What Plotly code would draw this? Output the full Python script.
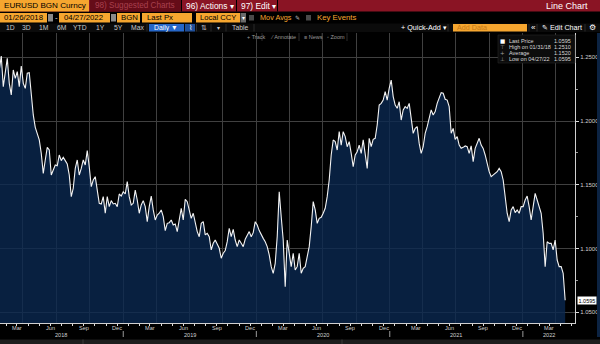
import pandas as pd
import plotly.graph_objects as go

# ---------------------------------------------------------------- data
ticker = "EURUSD BGN Curncy"
start_date = "2018-01-26"
end_date = "2022-04-27"

# EUR/USD last price, sampled at even intervals between the start and end dates
eurusd_close = [
    1.2401, 1.2510, 1.2270, 1.2375, 1.2492, 1.2296, 1.2205, 1.2401, 1.2335, 1.2388,
    1.2270, 1.2432, 1.2296, 1.2257, 1.2375, 1.2380, 1.2218, 1.2048, 1.1951, 1.1904,
    1.1852, 1.1747, 1.1590, 1.1695, 1.1794, 1.1773, 1.1577, 1.1616, 1.1656, 1.1650,
    1.1734, 1.1690, 1.1716, 1.1690, 1.1663, 1.1577, 1.1407, 1.1473, 1.1629, 1.1695,
    1.1577, 1.1629, 1.1695, 1.1656, 1.1768, 1.1642, 1.1486, 1.1538, 1.1564, 1.1459,
    1.1355, 1.1350, 1.1407, 1.1277, 1.1407, 1.1329, 1.1376, 1.1350, 1.1355, 1.1329,
    1.1428, 1.1412, 1.1446, 1.1428, 1.1525, 1.1407, 1.1342, 1.1355, 1.1459, 1.1381,
    1.1277, 1.1342, 1.1376, 1.1329, 1.1211,
    1.1329, 1.1412, 1.1303, 1.1224, 1.1263, 1.1277, 1.1303, 1.1250, 1.1141, 1.1198,
    1.1203, 1.1224, 1.1185, 1.1193, 1.1133, 1.1237, 1.1316, 1.1224, 1.1386, 1.1368,
    1.1290, 1.1237, 1.1277, 1.1211, 1.1133, 1.1093, 1.1198, 1.1211, 1.1107, 1.1120,
    1.1093, 1.0989, 1.1041, 1.1067, 1.1036, 1.1002, 1.0924, 1.0963, 1.0984, 1.1054,
    1.1159, 1.1093, 1.1151, 1.1067, 1.1015, 1.1067, 1.1041, 1.1015, 1.1073, 1.1107,
    1.1133, 1.1093, 1.1125, 1.1211, 1.1185, 1.1141, 1.1107, 1.1080, 1.1054, 1.1015,
    1.0950, 1.0858, 1.0806, 1.0884, 1.1093, 1.1446, 1.1250, 1.1067, 1.0701, 1.1067,
    1.0963, 1.0858, 1.0963, 1.0832, 1.0858,
    1.0963, 1.0806, 1.0845, 1.0858, 1.0924, 1.1015, 1.1172, 1.1368, 1.1303, 1.1198,
    1.1237, 1.1245, 1.1277, 1.1316, 1.1407, 1.1538, 1.1734, 1.1852, 1.1839, 1.1773,
    1.1917, 1.1812, 1.1917, 1.1878, 1.1799, 1.1839, 1.1747, 1.1642, 1.1734, 1.1760,
    1.1812, 1.1747, 1.1852, 1.1721, 1.1629, 1.1865, 1.1799, 1.1857, 1.1865, 1.1969,
    1.2126, 1.2139, 1.2165, 1.2231, 1.2165, 1.2257, 1.2322, 1.2192, 1.2126, 1.2100,
    1.2152, 1.2008, 1.2087, 1.2113, 1.2100, 1.2139, 1.2035, 1.1904, 1.1943, 1.1956,
    1.1825, 1.1747, 1.1799, 1.1904, 1.1956, 1.2035, 1.2087, 1.2048, 1.2074, 1.2139,
    1.2178, 1.2223, 1.2218, 1.2171, 1.2165,
    1.2113, 1.1904, 1.1943, 1.1857, 1.1878, 1.1812, 1.1786, 1.1794, 1.1805, 1.1799,
    1.1747, 1.1805, 1.1682, 1.1786, 1.1825, 1.1865, 1.1812, 1.1786, 1.1734, 1.1656,
    1.1603, 1.1564, 1.1577, 1.1595, 1.1603, 1.1629, 1.1603, 1.1538, 1.1381, 1.1277,
    1.1211, 1.1303, 1.1329, 1.1282, 1.1303, 1.1277, 1.1329, 1.1329, 1.1381, 1.1412,
    1.1329, 1.1224, 1.1329, 1.1433, 1.1381, 1.1329, 1.1277, 1.1120, 1.0858, 1.1054,
    1.1041, 1.1041, 1.0989, 1.1067, 1.0910, 1.0858, 1.0858, 1.0806, 1.0595,
]

average_price = 1.1520
y_ticks = [1.05, 1.10, 1.15, 1.20, 1.25]
month_names = {3: "Mar", 6: "Jun", 9: "Sep", 12: "Dec"}
period_buttons = ["1D", "3D", "1M", "6M", "YTD", "1Y", "5Y", "Max"]

dates = pd.date_range(start_date, end_date, periods=len(eurusd_close))
x_range = [pd.Timestamp("2018-01-28"), pd.Timestamp("2022-05-24")]
y_range = [1.0416, 1.2691]

last_px = eurusd_close[-1]
hi_idx = max(range(len(eurusd_close)), key=lambda i: eurusd_close[i])
lo_idx = min(range(len(eurusd_close)), key=lambda i: eurusd_close[i])

# month ticks (labels mid-month), quarter gridlines
month_ticks = pd.date_range("2018-02-01", "2022-05-01", freq="MS") + pd.Timedelta(days=14)
quarter_lines = pd.date_range("2018-04-01", "2022-04-01", freq="QS")

# ---------------------------------------------------------------- layout helpers
W, H = 600, 344
ML, MR, MT, MB = 0, 25, 33, 21
PW, PH = W - ML - MR, H - MT - MB

def fx(px):
    return (px - ML) / PW

def fy(py):
    return (H - MB - py) / PH

shapes, notes = [], []
FONT = "Liberation Sans, Arial, sans-serif"

def box(x0, y0, x1, y1, color, line=None):
    shapes.append(dict(type="rect", xref="paper", yref="paper",
                       x0=fx(x0), x1=fx(x1), y0=fy(y1), y1=fy(y0),
                       fillcolor=color, line=dict(width=0.6 if line else 0, color=line or color),
                       layer="above"))

def vline(x, y0, y1, color, w=1):
    shapes.append(dict(type="line", xref="paper", yref="paper",
                       x0=fx(x), x1=fx(x), y0=fy(y1), y1=fy(y0),
                       line=dict(color=color, width=w), layer="above"))

def text(x, y, s, size=8, color="#ffffff", anchor="left", family=FONT):
    notes.append(dict(xref="paper", yref="paper", x=fx(x), y=fy(y), text=s,
                      showarrow=False, xanchor=anchor, yanchor="middle",
                      font=dict(size=size, color=color, family=family)))

ORANGE = "#f6a62f"
RED = "#8a1424"

# row 1: security + menu bar
box(0, 0, 600, 11.5, RED)
box(0, 0, 89, 11.5, ORANGE)
text(1.5, 6, ticker, 8.1, "#000000")
box(90, 0, 181, 11.5, "#650c18")
text(93, 6, "98) Suggested Charts", 8.2, "#a9404e")
vline(181.5, 0, 11.5, "#000000", 1)
text(184, 6, "96) Actions ▾", 8.4, "#ffffff")
vline(236.5, 0, 11.5, "#000000", 1)
text(239, 6, "97) Edit ▾", 8.4, "#ffffff")
vline(277.5, 0, 11.5, "#000000", 1)
text(590, 6, "Line Chart", 9, "#ffffff", anchor="right")

# row 2: date range and fields
box(0, 12.5, 600, 23, "#000000")
box(0, 13, 47, 22.5, ORANGE)
text(2, 17.8, "01/26/2018", 7.8, "#000000")
box(48, 14, 53, 21.5, "#8a8a8a")
text(56, 17.8, "-", 8, "#dddddd", anchor="center")
box(59, 13, 110, 22.5, ORANGE)
text(62, 17.8, "04/27/2022", 7.8, "#000000")
box(111, 14, 116, 21.5, "#8a8a8a")
box(117, 13, 140, 22.5, ORANGE)
text(119, 17.8, "BGN", 7.8, "#000000")
box(142, 13, 192, 22.5, ORANGE)
text(145, 17.8, "Last Px", 7.8, "#000000")
box(196, 13, 240, 22.5, ORANGE)
text(198, 17.8, "Local CCY", 7.6, "#000000")
box(240.5, 13, 246, 22.5, "#6a6a6a")
text(243.3, 18, "▾", 6, "#ffffff", anchor="center")
box(249, 15, 254, 20.5, "#4a4a4a")
text(258, 17.8, "Mov Avgs", 7.3, ORANGE)
text(297, 17.5, "✎", 6, "#bbbbbb", anchor="center")
box(306, 15, 311, 20.5, "#4a4a4a")
text(315, 17.8, "Key Events", 7.8, ORANGE)

# row 3: period buttons and chart toolbar
box(0, 23.5, 600, 32, "#0b0b0b")
for lbl, px in zip(period_buttons, [10, 27, 44, 62, 80, 100, 118, 137]):
    text(px, 27.8, lbl, 6.8, "#c8c8c8", anchor="center")
box(149, 24, 184, 31.5, "#2566c8")
text(152, 27.8, "Daily ▼", 6.8, "#ffffff")
box(185, 24, 195, 31.5, "#1f4f9a")
text(190, 27.8, "⌇", 6.5, "#ffffff", anchor="center")
text(199, 27.8, "⇅", 6.5, "#c8c8c8")
text(218, 27.8, "▾", 6, "#c8c8c8", anchor="center")
text(240, 27.8, "Table", 6.8, "#c8c8c8", anchor="center")
for px in [147, 196.5, 211, 226, 254]:
    vline(px, 24, 31.5, "#2a2a2a")
text(399, 27.8, "+ Quick-Add ▾", 7.2, "#ffffff")
box(453, 24, 527, 31.5, ORANGE)
text(455, 27.8, "Add Data", 7.2, "#c77a17")
text(533, 27.8, "«", 8, "#ffffff", anchor="center")
text(540, 27.8, "✎ Edit Chart", 7.2, "#ffffff")
text(592, 27.8, "⚙", 7.5, "#ffffff", anchor="center")
for px in [448, 529, 537, 585]:
    vline(px, 24, 31.5, "#2a2a2a")

# row 4: chart tools
for lbl, px in [("+ Track", 245), ("⁄ Annotate", 268), ("≡ News", 302), ("◦ Zoom", 325)]:
    text(px, 37.2, lbl, 5.5, "#9a9a9a")
for px in [262, 299, 322, 347]:
    vline(px, 33, 41, "#2a2a2a")

# statistics box
box(498, 35, 575, 63, "#0c0c0c", line="#262626")
stats = [
    ("■", "Last Price", last_px),
    ("⊤", "High on " + dates[hi_idx].strftime("%m/%d/%y"), eurusd_close[hi_idx]),
    ("+", "Average", average_price),
    ("⊥", "Low on " + dates[lo_idx].strftime("%m/%d/%y"), eurusd_close[lo_idx]),
]
for i, (sym, lbl, val) in enumerate(stats):
    yy = 41 + i * 6
    text(502.5, yy, sym, 5.5, "#ffffff" if i == 0 else "#a0a0a0", anchor="center",
         family="DejaVu Sans")
    text(507, yy, lbl, 5.5, "#d8d8d8")
    text(573, yy, f"{val:.4f}", 5.5, "#d8d8d8", anchor="right")

# month labels just under the axis line
for d in month_ticks:
    if d.month in month_names:
        notes.append(dict(xref="x", yref="paper", x=d, y=fy(328.2),
                          text=month_names[d.month], showarrow=False,
                          xanchor="center", yanchor="middle",
                          font=dict(size=5.6, color="#cfcfcf", family=FONT)))

# year labels, centred on the visible part of each year
for yr in range(x_range[0].year, x_range[1].year + 1):
    a = max(pd.Timestamp(f"{yr}-01-01"), x_range[0])
    b = min(pd.Timestamp(f"{yr}-12-31"), x_range[1])
    notes.append(dict(xref="x", yref="paper", x=a + (b - a) / 2, y=fy(334.6),
                      text=str(yr), showarrow=False, xanchor="center", yanchor="middle",
                      font=dict(size=5.6, color="#cfcfcf", family=FONT)))
    if yr > x_range[0].year:
        shapes.append(dict(type="line", xref="x", yref="paper",
                           x0=pd.Timestamp(f"{yr}-01-01"), x1=pd.Timestamp(f"{yr}-01-01"),
                           y0=fy(337), y1=fy(331), line=dict(color="#9a9a9a", width=1)))

# last-price flag on the price axis
notes.append(dict(xref="paper", yref="y", x=fx(577), y=last_px, text=f"{last_px:.4f}",
                  showarrow=False, xanchor="left", yanchor="middle", bgcolor="#ffffff",
                  borderpad=0.5, font=dict(size=5.5, color="#000000", family=FONT)))

# bottom status strip and right scroll strip
box(0, 339.5, 600, 344, "#1d1d1d")
vline(83, 339.5, 344, "#3a3a3a")
vline(342, 339.5, 344, "#3a3a3a")
box(597, 33, 600, 337, "#0c2342")

# ---------------------------------------------------------------- figure
fig = go.Figure(go.Scatter(
    x=dates, y=eurusd_close, mode="lines",
    line=dict(color="#f4f4f4", width=1.1),
    fill="tozeroy", fillcolor="rgba(10,40,80,0.8)",
    hoverinfo="skip",
))

fig.update_layout(
    width=W, height=H,
    margin=dict(l=ML, r=MR, t=MT, b=MB),
    paper_bgcolor="#000000", plot_bgcolor="#000000",
    showlegend=False,
    shapes=shapes, annotations=notes,
    font=dict(family=FONT, color="#cfcfcf"),
    xaxis=dict(
        range=x_range, tickmode="array", tickvals=month_ticks,
        ticktext=[""] * len(month_ticks),
        ticks="outside", ticklen=2, tickwidth=1, tickcolor="#dddddd",
        showgrid=False, zeroline=False,
        showline=True, linecolor="#d0d0d0", linewidth=1,
        minor=dict(tickmode="array", tickvals=quarter_lines, showgrid=True,
                   gridcolor="#404040", gridwidth=1, ticks=""),
    ),
    yaxis=dict(
        range=y_range, side="right", tickmode="array", tickvals=y_ticks,
        tickformat=".4f", ticks="outside", ticklen=3, tickcolor="#dddddd",
        tickfont=dict(size=6, color="#cfcfcf"),
        showgrid=True, gridcolor="#404040", gridwidth=1, zeroline=False,
        showline=True, linecolor="#d0d0d0", linewidth=1,
        minor=dict(dtick=0.025, ticks="outside", ticklen=2, tickcolor="#9a9a9a",
                   showgrid=False),
    ),
)

fig.write_html("out.html")
